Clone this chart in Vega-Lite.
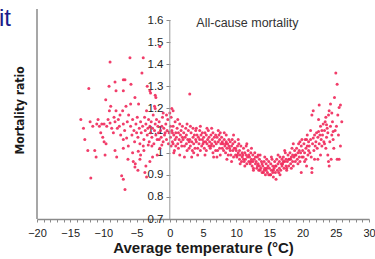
{
"$schema":"https://vega.github.io/schema/vega-lite/v6.json",
"width":332,"height":210,
"autosize":{"type":"none"},
"padding":{"left":37,"top":9,"right":6,"bottom":40},
"config":{"view":{"stroke":null},"font":"Liberation Sans","background":"white","axis":{"labelOverlap":false,"labelFlush":false,"grid":false}},
"title":{"text":"it","anchor":"start","frame":"group","dx":-38,"offset":0,"baseline":"alphabetic","dy":42,"fontSize":24,"fontWeight":"normal","color":"#1c1c8a","font":"Liberation Sans"},
"layer":[
{"data":{"values":[
{"t":-13.4,"m":1.15},{"t":-13.0,"m":1.11},{"t":-12.2,"m":1.29},{"t":-12.35,"m":1.01},{"t":-11.9,"m":0.886},{"t":-11.3,"m":1.01},{"t":-11.1,"m":0.98},{"t":-10.8,"m":1.15},{"t":-11.0,"m":1.13},{"t":-10.25,"m":1.13},{"t":-9.9,"m":1.13},{"t":-9.3,"m":1.15},{"t":-9.0,"m":1.134},{"t":-8.75,"m":1.11},{"t":-8.25,"m":1.14},{"t":-7.75,"m":1.15},{"t":-7.0,"m":1.13},{"t":-10.1,"m":1.07},{"t":-9.9,"m":1.05},{"t":-9.6,"m":1.04},{"t":-9.75,"m":0.99},{"t":-8.25,"m":1.01},{"t":-8.0,"m":0.98},{"t":-7.0,"m":1.06},{"t":-7.0,"m":1.02},{"t":-7.25,"m":0.896},{"t":-7.0,"m":0.88},{"t":-6.75,"m":0.833},{"t":-9.0,"m":1.41},{"t":-8.25,"m":1.32},{"t":-9.15,"m":1.30},{"t":-8.1,"m":1.28},{"t":-7.0,"m":1.33},{"t":-7.0,"m":1.28},{"t":-9.65,"m":1.24},{"t":-8.9,"m":1.21},{"t":-9.1,"m":1.19},{"t":-8.1,"m":1.19},{"t":-7.1,"m":1.19},{"t":-7.5,"m":1.17},
{"t":-11.6,"m":1.12},{"t":-10.6,"m":1.12},{"t":-9.5,"m":1.12},{"t":-8.5,"m":1.09},{"t":-8.4,"m":1.16},{"t":-7.9,"m":1.11},{"t":-7.4,"m":1.08},{"t":-7.6,"m":1.12},{"t":-6.8,"m":1.10},{"t":-6.6,"m":1.21},{"t":-6.4,"m":1.14},{"t":-6.2,"m":1.17},{"t":-6.5,"m":1.066},{"t":-6.25,"m":1.03},{"t":-6.75,"m":1.33},{"t":-5.85,"m":1.31},{"t":-6.0,"m":1.43},{"t":-4.0,"m":1.43},{"t":-5.25,"m":1.25},{"t":-5.9,"m":1.22},{"t":-4.7,"m":1.22},{"t":-5.5,"m":0.96},{"t":-5.25,"m":0.935},{"t":-4.5,"m":0.97},{"t":-4.75,"m":1.006},{"t":-4.0,"m":1.03},{"t":-3.25,"m":1.035},{"t":-2.7,"m":1.03},{"t":-3.75,"m":0.91},{"t":-1.2,"m":1.035},{"t":-1.6,"m":1.06},{"t":-0.7,"m":1.09},{"t":-1.5,"m":1.48},{"t":-2.9,"m":1.27},{"t":-2.2,"m":1.26},{"t":-2.1,"m":1.25},{"t":-3.5,"m":1.19},{"t":-2.2,"m":1.20},{"t":0.5,"m":1.19},{"t":0.0,"m":1.18},{"t":-3.0,"m":1.28},{"t":-3.4,"m":1.30},{"t":-4.2,"m":1.36},{"t":-3.6,"m":0.94},{"t":-3.5,"m":0.89},{"t":-4.8,"m":0.92},{"t":-5.2,"m":0.95},
{"t":-5.9,"m":1.12},{"t":-5.7,"m":1.08},{"t":-5.6,"m":1.15},{"t":-5.4,"m":1.10},{"t":-5.3,"m":1.05},{"t":-5.1,"m":1.13},{"t":-5.0,"m":1.09},{"t":-4.9,"m":1.16},{"t":-4.8,"m":1.07},{"t":-4.6,"m":1.11},{"t":-4.5,"m":1.04},{"t":-4.4,"m":1.14},{"t":-4.3,"m":1.09},{"t":-4.1,"m":1.12},{"t":-3.9,"m":1.06},{"t":-3.8,"m":1.16},{"t":-3.7,"m":1.10},{"t":-3.6,"m":1.13},{"t":-3.4,"m":1.08},{"t":-3.3,"m":1.11},{"t":-3.2,"m":1.15},{"t":-3.1,"m":1.05},{"t":-3.0,"m":1.12},{"t":-2.9,"m":1.09},{"t":-2.8,"m":1.14},{"t":-2.7,"m":1.07},{"t":-2.6,"m":1.11},{"t":-2.5,"m":1.17},{"t":-2.4,"m":1.04},{"t":-2.3,"m":1.10},{"t":-2.2,"m":1.13},{"t":-2.1,"m":1.08},{"t":-2.0,"m":1.15},{"t":-1.9,"m":1.06},{"t":-1.8,"m":1.12},{"t":-1.7,"m":1.09},{"t":-1.6,"m":1.14},{"t":-1.5,"m":1.02},{"t":-1.4,"m":1.10},{"t":-1.3,"m":1.07},{"t":-1.2,"m":1.12},{"t":-1.1,"m":1.16},{"t":-1.0,"m":1.05},{"t":-0.9,"m":1.11},{"t":-0.8,"m":1.08},{"t":-0.6,"m":1.13},{"t":-0.5,"m":1.06},{"t":-0.4,"m":1.10},{"t":-0.3,"m":1.15},{"t":-0.2,"m":1.04},{"t":-0.1,"m":1.09},{"t":-4.4,"m":0.99},{"t":-3.9,"m":1.01},{"t":-2.6,"m":0.98},{"t":-1.9,"m":0.99},{"t":-5.6,"m":1.00},{"t":-6.3,"m":0.97},{"t":-2.3,"m":1.21},{"t":-1.0,"m":1.18},{"t":-0.5,"m":1.17},{"t":-3.0,"m":0.96},{"t":-12.8,"m":1.06},{"t":-10.4,"m":1.09},{"t":-12.0,"m":1.14},
{"t":0.1,"m":1.07},{"t":0.2,"m":1.03},{"t":0.3,"m":1.10},{"t":0.3,"m":1.20},{"t":0.4,"m":1.05},{"t":0.5,"m":1.12},{"t":0.6,"m":1.08},{"t":0.7,"m":1.01},{"t":0.8,"m":1.06},{"t":0.8,"m":1.14},{"t":0.9,"m":1.09},{"t":0.2,"m":1.16},{"t":0.5,"m":1.04},{"t":0.6,"m":1.00},{"t":0.9,"m":1.03},{"t":0.4,"m":1.09},{"t":0.1,"m":1.12},
{"t":1.0,"m":1.07},{"t":1.1,"m":1.11},{"t":1.2,"m":1.04},{"t":1.3,"m":1.09},{"t":1.3,"m":1.02},{"t":1.4,"m":1.06},{"t":1.5,"m":1.13},{"t":1.6,"m":1.08},{"t":1.7,"m":1.05},{"t":1.7,"m":1.10},{"t":1.8,"m":1.03},{"t":1.9,"m":1.07},{"t":1.9,"m":1.12},{"t":1.5,"m":0.99},{"t":1.2,"m":1.15},
{"t":2.0,"m":1.06},{"t":2.1,"m":1.09},{"t":2.2,"m":1.03},{"t":2.3,"m":1.07},{"t":2.4,"m":1.11},{"t":2.5,"m":1.04},{"t":2.5,"m":1.08},{"t":2.6,"m":1.01},{"t":2.7,"m":1.06},{"t":2.8,"m":1.10},{"t":2.9,"m":1.05},{"t":2.9,"m":1.02},{"t":2.2,"m":0.98},{"t":2.6,"m":1.13},{"t":3.0,"m":1.265},
{"t":3.0,"m":1.06},{"t":3.1,"m":1.03},{"t":3.2,"m":1.09},{"t":3.3,"m":1.05},{"t":3.4,"m":1.01},{"t":3.5,"m":1.07},{"t":3.5,"m":1.11},{"t":3.6,"m":1.04},{"t":3.7,"m":1.08},{"t":3.8,"m":1.02},{"t":3.9,"m":1.06},{"t":3.9,"m":1.10},{"t":3.3,"m":0.98},{"t":3.6,"m":1.00},{"t":3.1,"m":1.12},
{"t":4.0,"m":1.05},{"t":4.1,"m":1.08},{"t":4.2,"m":1.02},{"t":4.3,"m":1.07},{"t":4.4,"m":1.04},{"t":4.5,"m":1.10},{"t":4.5,"m":1.06},{"t":4.6,"m":1.01},{"t":4.7,"m":1.08},{"t":4.8,"m":1.03},{"t":4.9,"m":1.06},{"t":4.9,"m":1.09},{"t":4.2,"m":0.99},{"t":4.6,"m":1.12},{"t":4.0,"m":1.11},
{"t":5.0,"m":1.04},{"t":5.1,"m":1.07},{"t":5.2,"m":1.02},{"t":5.3,"m":1.09},{"t":5.4,"m":1.05},{"t":5.5,"m":1.01},{"t":5.5,"m":1.08},{"t":5.6,"m":1.04},{"t":5.7,"m":1.06},{"t":5.8,"m":1.10},{"t":5.9,"m":1.03},{"t":5.9,"m":1.07},{"t":5.3,"m":0.99},{"t":5.6,"m":1.11},{"t":5.1,"m":1.05},
{"t":6.0,"m":1.05},{"t":6.1,"m":1.02},{"t":6.2,"m":1.08},{"t":6.3,"m":1.04},{"t":6.4,"m":1.06},{"t":6.5,"m":1.00},{"t":6.5,"m":1.09},{"t":6.6,"m":1.03},{"t":6.7,"m":1.07},{"t":6.8,"m":1.05},{"t":6.9,"m":1.01},{"t":6.9,"m":1.08},{"t":6.3,"m":1.11},{"t":6.6,"m":0.98},{"t":6.2,"m":1.03},
{"t":7.0,"m":1.04},{"t":7.1,"m":1.07},{"t":7.2,"m":1.01},{"t":7.3,"m":1.05},{"t":7.4,"m":1.08},{"t":7.5,"m":1.02},{"t":7.5,"m":1.06},{"t":7.6,"m":0.99},{"t":7.7,"m":1.04},{"t":7.8,"m":1.07},{"t":7.9,"m":1.02},{"t":7.9,"m":1.05},{"t":7.3,"m":1.10},{"t":7.6,"m":1.09},{"t":7.1,"m":0.98},
{"t":8.0,"m":1.04},{"t":8.1,"m":1.01},{"t":8.2,"m":1.06},{"t":8.3,"m":1.03},{"t":8.4,"m":1.00},{"t":8.5,"m":1.05},{"t":8.5,"m":1.08},{"t":8.6,"m":1.02},{"t":8.7,"m":1.04},{"t":8.8,"m":0.99},{"t":8.9,"m":1.03},{"t":8.9,"m":1.06},{"t":8.2,"m":1.09},{"t":8.6,"m":0.97},{"t":8.4,"m":1.04},
{"t":9.0,"m":1.02},{"t":9.1,"m":1.05},{"t":9.2,"m":0.99},{"t":9.3,"m":1.03},{"t":9.4,"m":1.06},{"t":9.5,"m":1.01},{"t":9.5,"m":1.04},{"t":9.6,"m":0.98},{"t":9.7,"m":1.02},{"t":9.8,"m":1.05},{"t":9.9,"m":0.99},{"t":9.9,"m":1.02},{"t":9.3,"m":0.96},{"t":9.6,"m":1.08},{"t":9.1,"m":1.01},
{"t":10.0,"m":1.01},{"t":10.1,"m":0.98},{"t":10.2,"m":1.03},{"t":10.3,"m":1.00},{"t":10.4,"m":1.04},{"t":10.5,"m":0.97},{"t":10.5,"m":1.01},{"t":10.6,"m":0.99},{"t":10.7,"m":1.03},{"t":10.8,"m":0.96},{"t":10.9,"m":1.00},{"t":10.9,"m":0.98},{"t":10.3,"m":1.06},{"t":10.6,"m":0.95},{"t":10.2,"m":0.99},
{"t":11.0,"m":0.99},{"t":11.1,"m":1.02},{"t":11.2,"m":0.96},{"t":11.3,"m":1.00},{"t":11.4,"m":0.97},{"t":11.5,"m":1.03},{"t":11.5,"m":0.99},{"t":11.6,"m":0.95},{"t":11.7,"m":0.98},{"t":11.8,"m":1.01},{"t":11.9,"m":0.96},{"t":11.9,"m":0.99},{"t":11.3,"m":0.94},{"t":11.6,"m":1.04},{"t":11.1,"m":0.97},
{"t":12.0,"m":0.98},{"t":12.1,"m":0.95},{"t":12.2,"m":1.00},{"t":12.3,"m":0.97},{"t":12.4,"m":0.94},{"t":12.5,"m":0.99},{"t":12.5,"m":0.96},{"t":12.6,"m":0.93},{"t":12.7,"m":0.97},{"t":12.8,"m":1.00},{"t":12.9,"m":0.95},{"t":12.9,"m":0.98},{"t":12.3,"m":1.02},{"t":12.6,"m":0.92},{"t":12.2,"m":0.96},
{"t":13.0,"m":0.96},{"t":13.1,"m":0.93},{"t":13.2,"m":0.98},{"t":13.3,"m":0.95},{"t":13.4,"m":0.92},{"t":13.5,"m":0.97},{"t":13.5,"m":0.94},{"t":13.6,"m":0.99},{"t":13.7,"m":0.93},{"t":13.8,"m":0.96},{"t":13.9,"m":0.91},{"t":13.9,"m":0.95},{"t":13.3,"m":0.99},{"t":13.6,"m":0.92},{"t":13.2,"m":0.94},
{"t":14.0,"m":0.94},{"t":14.1,"m":0.91},{"t":14.2,"m":0.96},{"t":14.3,"m":0.93},{"t":14.4,"m":0.90},{"t":14.5,"m":0.95},{"t":14.5,"m":0.92},{"t":14.6,"m":0.97},{"t":14.7,"m":0.91},{"t":14.8,"m":0.94},{"t":14.9,"m":0.90},{"t":14.9,"m":0.96},{"t":14.3,"m":0.98},{"t":14.6,"m":0.93},{"t":14.2,"m":0.92},
{"t":15.0,"m":0.93},{"t":15.1,"m":0.90},{"t":15.2,"m":0.95},{"t":15.3,"m":0.92},{"t":15.4,"m":0.97},{"t":15.5,"m":0.91},{"t":15.5,"m":0.94},{"t":15.6,"m":0.89},{"t":15.7,"m":0.93},{"t":15.8,"m":0.96},{"t":15.9,"m":0.91},{"t":15.9,"m":0.94},{"t":15.3,"m":0.98},{"t":15.6,"m":0.92},{"t":15.2,"m":0.90},
{"t":16.0,"m":0.88},{"t":16.0,"m":0.94},{"t":16.1,"m":0.97},{"t":16.2,"m":0.92},{"t":16.3,"m":0.95},{"t":16.4,"m":0.91},{"t":16.5,"m":0.96},{"t":16.5,"m":0.93},{"t":16.6,"m":0.98},{"t":16.7,"m":0.92},{"t":16.8,"m":0.95},{"t":16.9,"m":0.94},{"t":16.9,"m":0.97},{"t":16.3,"m":0.99},{"t":16.6,"m":0.90},
{"t":17.0,"m":0.95},{"t":17.1,"m":0.98},{"t":17.2,"m":0.93},{"t":17.3,"m":0.96},{"t":17.4,"m":1.00},{"t":17.5,"m":0.94},{"t":17.5,"m":0.97},{"t":17.6,"m":0.92},{"t":17.7,"m":0.96},{"t":17.8,"m":0.99},{"t":17.9,"m":0.94},{"t":17.9,"m":0.97},{"t":17.3,"m":1.01},{"t":17.6,"m":0.93},{"t":17.1,"m":0.96},
{"t":18.0,"m":0.97},{"t":18.1,"m":1.00},{"t":18.2,"m":0.95},{"t":18.3,"m":0.98},{"t":18.4,"m":1.02},{"t":18.5,"m":0.96},{"t":18.5,"m":0.99},{"t":18.6,"m":0.94},{"t":18.7,"m":0.98},{"t":18.8,"m":1.01},{"t":18.9,"m":0.96},{"t":18.9,"m":0.99},{"t":18.3,"m":0.93},{"t":18.6,"m":1.04},{"t":18.2,"m":0.97},
{"t":19.0,"m":0.99},{"t":19.1,"m":1.02},{"t":19.2,"m":0.97},{"t":19.3,"m":1.00},{"t":19.4,"m":1.04},{"t":19.5,"m":0.98},{"t":19.5,"m":1.01},{"t":19.6,"m":0.96},{"t":19.7,"m":1.00},{"t":19.8,"m":1.03},{"t":19.8,"m":0.91},{"t":19.9,"m":0.98},{"t":19.9,"m":1.06},{"t":19.3,"m":0.95},{"t":19.6,"m":1.05},
{"t":20.0,"m":1.01},{"t":20.1,"m":0.98},{"t":20.2,"m":1.04},{"t":20.3,"m":1.00},{"t":20.4,"m":1.06},{"t":20.5,"m":0.97},{"t":20.5,"m":1.02},{"t":20.6,"m":1.06},{"t":20.6,"m":0.94},{"t":20.7,"m":1.03},{"t":20.8,"m":0.99},{"t":20.9,"m":1.05},{"t":20.9,"m":1.01},{"t":20.3,"m":0.96},{"t":20.7,"m":1.08},
{"t":21.0,"m":1.03},{"t":21.1,"m":1.00},{"t":21.2,"m":1.06},{"t":21.3,"m":0.98},{"t":21.4,"m":1.17},{"t":21.4,"m":0.93},{"t":21.4,"m":0.91},{"t":21.5,"m":1.04},{"t":21.6,"m":1.19},{"t":21.6,"m":1.066},{"t":21.7,"m":1.01},{"t":21.8,"m":1.08},{"t":21.9,"m":1.03},{"t":21.2,"m":1.10},{"t":21.8,"m":0.97},
{"t":22.0,"m":1.05},{"t":22.1,"m":1.09},{"t":22.2,"m":1.02},{"t":22.3,"m":1.07},{"t":22.4,"m":1.15},{"t":22.4,"m":1.096},{"t":22.5,"m":1.216},{"t":22.5,"m":1.04},{"t":22.6,"m":1.08},{"t":22.7,"m":0.99},{"t":22.8,"m":1.06},{"t":22.9,"m":1.10},{"t":22.9,"m":1.03},{"t":22.3,"m":0.97},{"t":22.7,"m":1.12},
{"t":23.0,"m":1.08},{"t":23.1,"m":1.13},{"t":23.2,"m":1.05},{"t":23.3,"m":1.10},{"t":23.4,"m":1.14},{"t":23.5,"m":1.02},{"t":23.6,"m":1.126},{"t":23.6,"m":1.07},{"t":23.7,"m":1.11},{"t":23.8,"m":0.99},{"t":23.9,"m":1.17},{"t":23.9,"m":0.96},{"t":23.3,"m":1.04},{"t":23.5,"m":1.16},{"t":23.8,"m":1.09},
{"t":24.0,"m":1.19},{"t":24.0,"m":0.94},{"t":24.1,"m":1.05},{"t":24.2,"m":1.12},{"t":24.4,"m":1.18},{"t":24.4,"m":1.08},{"t":24.6,"m":1.096},{"t":24.6,"m":1.06},{"t":24.5,"m":1.14},{"t":24.8,"m":1.25},{"t":24.7,"m":1.02},{"t":24.3,"m":0.97},{"t":24.9,"m":1.10},{"t":24.2,"m":1.22},
{"t":25.0,"m":1.36},{"t":25.2,"m":1.31},{"t":25.7,"m":1.216},{"t":25.5,"m":1.204},{"t":25.9,"m":1.14},{"t":25.7,"m":1.03},{"t":25.5,"m":0.97},{"t":25.2,"m":0.97},{"t":25.1,"m":1.12},{"t":25.4,"m":1.08},{"t":25.3,"m":1.17}
]},
"mark":{"type":"circle","color":"#f0285a","opacity":0.9,"size":9},
"encoding":{
"x":{"field":"t","type":"quantitative","scale":{"domain":[-20,30],"nice":false,"zero":false},
 "axis":{"title":"Average temperature (°C)","titleFontSize":15,"titleFontWeight":"bold","titleColor":"#1a1a1a","titlePadding":2,"tickCount":100,
 "values":[-20,-19,-18,-17,-16,-15,-14,-13,-12,-11,-10,-9,-8,-7,-6,-5,-4,-3,-2,-1,0,1,2,3,4,5,6,7,8,9,10,11,12,13,14,15,16,17,18,19,20,21,22,23,24,25,26,27,28,29,30],
 "labelExpr":"datum.value % 5 == 0 ? format(datum.value, 'd') : ''","labelOverlap":false,"labelFlush":false,
 "labelFontSize":11,"labelColor":"#222","labelPadding":5,"tickSize":3,"tickColor":"#8a8a8a","domainColor":"#8a8a8a","domainWidth":1.5,"grid":false}},
"y":{"field":"m","type":"quantitative","scale":{"domain":[0.7,1.65],"nice":false,"zero":false},
 "axis":{"title":"Mortality ratio","offset":-133,"domain":false,"tickCount":50,"values":[0.7,0.8,0.9,1,1.1,1.2,1.3,1.4,1.5,1.6],"format":".2~f","labelOverlap":false,
 "labelFontSize":11.5,"labelColor":"#222","labelPadding":3,"tickSize":4,"tickColor":"#8a8a8a","grid":false,
 "titleX":-151,"titleY":101,"titleAngle":-90,"titleAlign":"center","titleBaseline":"middle","titleFont":"'DejaVu Sans Condensed', 'Liberation Sans', sans-serif","titleFontSize":12,"titleFontWeight":"bold","titleColor":"#1a1a1a"}}
}},
{"data":{"values":[{}]},"mark":{"type":"rule","color":"#8a8a8a","strokeWidth":1.5},"encoding":{"x":{"datum":-20,"type":"quantitative"},"y":{"datum":0.7,"type":"quantitative"},"y2":{"datum":1.65}}},
{"data":{"values":[{}]},"mark":{"type":"rule","color":"#9a9a9a","strokeWidth":1},"encoding":{"x":{"datum":0,"type":"quantitative"},"y":{"datum":0.7,"type":"quantitative"},"y2":{"datum":1.6}}},
{"data":{"values":[{}]},"mark":{"type":"text","align":"left","baseline":"middle","fontSize":12.5,"color":"#333","font":"Liberation Sans"},"encoding":{"x":{"datum":4.0,"type":"quantitative"},"y":{"datum":1.585,"type":"quantitative"},"text":{"value":"All-cause mortality"}}}
]
}
